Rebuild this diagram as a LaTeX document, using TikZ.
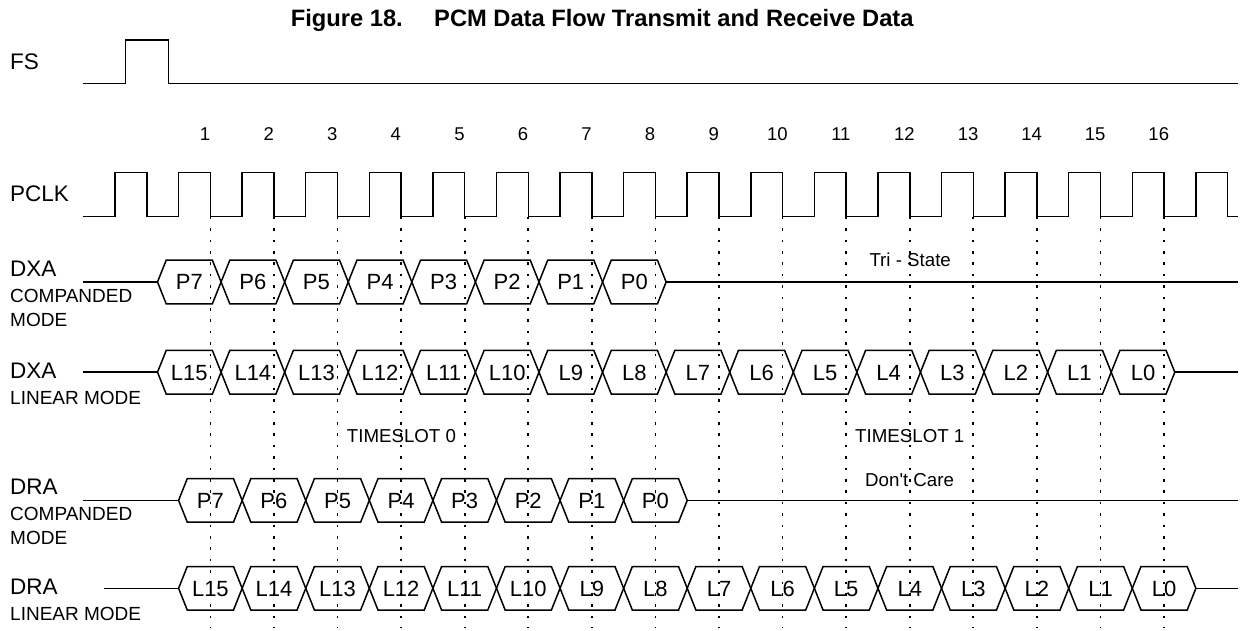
\documentclass[tikz,border=0pt]{standalone}
\usepackage{fontspec}
\setmainfont{Liberation Sans}[Ligatures=TeXOff]
\newcommand{\hexslot}[5]{% #1 start x, #2 end x, #3 mid y, #4 label, #5 node name
  \draw[sig] (#1,#3) -- ({#1+\hw},{#3-\hv}) -- ({#2-\hw},{#3-\hv}) -- (#2,#3)
     -- ({#2-\hw},{#3+\hv}) -- ({#1+\hw},{#3+\hv}) -- cycle;
  \node[hexlbl] (#5) at ({(#1+#2)/2},{#3+7.9}) {#4};
}
\begin{document}
\begin{tikzpicture}[x=1pt,y=-1pt,
  sig/.style={line width=1.5pt, line join=miter},
  gridline/.style={line width=1.7pt, dash pattern=on 2.6pt off 8.8pt},
  lbl/.style={anchor=base west, inner sep=0pt, font=\fontsize{22.5}{22.5}\selectfont},
  sub/.style={anchor=base west, inner sep=0pt, font=\fontsize{19}{19}\selectfont},
  num/.style={anchor=base, inner sep=0pt, font=\fontsize{18.5}{18.5}\selectfont},
  note/.style={anchor=base west, inner sep=0pt, font=\fontsize{18.7}{18.7}\selectfont},
  hexlbl/.style={anchor=base, inner sep=0pt, font=\fontsize{22}{22}\selectfont},
  ttl/.style={inner sep=0pt, font=\fontsize{23.7}{23.7}\selectfont\bfseries}]
\useasboundingbox (0,0) rectangle (1241,631);
\def\P{63.58}
\def\hw{8.7}
\def\hv{21.8}
% title
\node[ttl, anchor=base east] (figno) at (403,27) {Figure 18.};
\node[ttl, anchor=base west] (title) at (434,27) {PCM Data Flow Transmit and Receive Data};
% dotted grid
\foreach \k in {1,...,16} {
  \pgfmathsetmacro\gx{115+(\k+0.5)*\P}
  \coordinate (gt\k) at (\gx,216.7);
  \coordinate (gb\k) at (\gx,628);
  \draw[gridline] (gt\k) -- (gb\k);
  \node[num] (n\k) at ({\gx-5.3},140.5) {\k};
}
% FS
\node[lbl] (fs) at (10,69.3) {FS};
\draw[sig] (83.3,83.3) -- (125.7,83.3) -- (125.7,40) -- (168.3,40) -- (168.3,83.3) -- (1238,83.3);
% PCLK
\node[lbl] (pclk) at (10,201.7) {PCLK};
\draw[sig] (83.3,216.7) \foreach \k in {0,...,17} {
   -- ({115+\k*\P},216.7) -- ({115+\k*\P},172.3) -- ({115+(\k+0.5)*\P},172.3) -- ({115+(\k+0.5)*\P},216.7) }
   -- (1238,216.7);
% DXA companded
\node[lbl] (dxa1) at (10,276.7) {DXA};
\node[sub] (dxa1a) at (10,302.3) {COMPANDED};
\node[sub] (dxa1b) at (10,326) {MODE};
\draw[sig] (83.3,282) -- (157.5,282);
\foreach \lab [count=\i from 0] in {P7,P6,P5,P4,P3,P2,P1,P0} {
  \pgfmathsetmacro\xa{157.5+\i*\P}
  \pgfmathsetmacro\xb{157.5+(\i+1)*\P}
  \hexslot{\xa}{\xb}{282}{\lab}{dxc\i}
}
\draw[sig] ({157.5+8*\P},282) -- (1238,282);
\node[note] (tri) at (869.3,266.7) {Tri - State};
% DXA linear
\node[lbl] (dxa2) at (10,378.3) {DXA};
\node[sub] (dxa2a) at (10,404) {LINEAR MODE};
\draw[sig] (83.3,372.2) -- (157.5,372.2);
\foreach \lab [count=\i from 0] in {L15,L14,L13,L12,L11,L10,L9,L8,L7,L6,L5,L4,L3,L2,L1,L0} {
  \pgfmathsetmacro\xa{157.5+\i*\P}
  \pgfmathsetmacro\xb{157.5+(\i+1)*\P}
  \hexslot{\xa}{\xb}{372.2}{\lab}{dxl\i}
}
\draw[sig] ({157.5+16*\P},372.2) -- (1238,372.2);
\node[note] (ts0) at (346.7,442.7) {TIMESLOT 0};
\node[note] (ts1) at (855,442.7) {TIMESLOT 1};
% DRA companded
\node[lbl] (dra1) at (10,494.3) {DRA};
\node[sub] (dra1a) at (10,520.7) {COMPANDED};
\node[sub] (dra1b) at (10,544) {MODE};
\draw[sig] (83.3,500.4) -- ({115+\P},500.4);
\foreach \lab [count=\i from 1] in {P7,P6,P5,P4,P3,P2,P1,P0} {
  \pgfmathsetmacro\xa{115+\i*\P}
  \pgfmathsetmacro\xb{115+(\i+1)*\P}
  \hexslot{\xa}{\xb}{500.4}{\lab}{drc\i}
}
\draw[sig] ({115+9*\P},500.4) -- (1238,500.4);
\node[note] (dc) at (865,486.7) {Don't Care};
% DRA linear
\node[lbl] (dra2) at (10,594.3) {DRA};
\node[sub] (dra2a) at (10,620) {LINEAR MODE};
\draw[sig] (104.3,588.3) -- ({115+\P},588.3);
\foreach \lab [count=\i from 1] in {L15,L14,L13,L12,L11,L10,L9,L8,L7,L6,L5,L4,L3,L2,L1,L0} {
  \pgfmathsetmacro\xa{115+\i*\P}
  \pgfmathsetmacro\xb{115+(\i+1)*\P}
  \hexslot{\xa}{\xb}{588.3}{\lab}{drl\i}
}
\draw[sig] ({115+17*\P},588.3) -- (1238,588.3);
\end{tikzpicture}
\end{document}
